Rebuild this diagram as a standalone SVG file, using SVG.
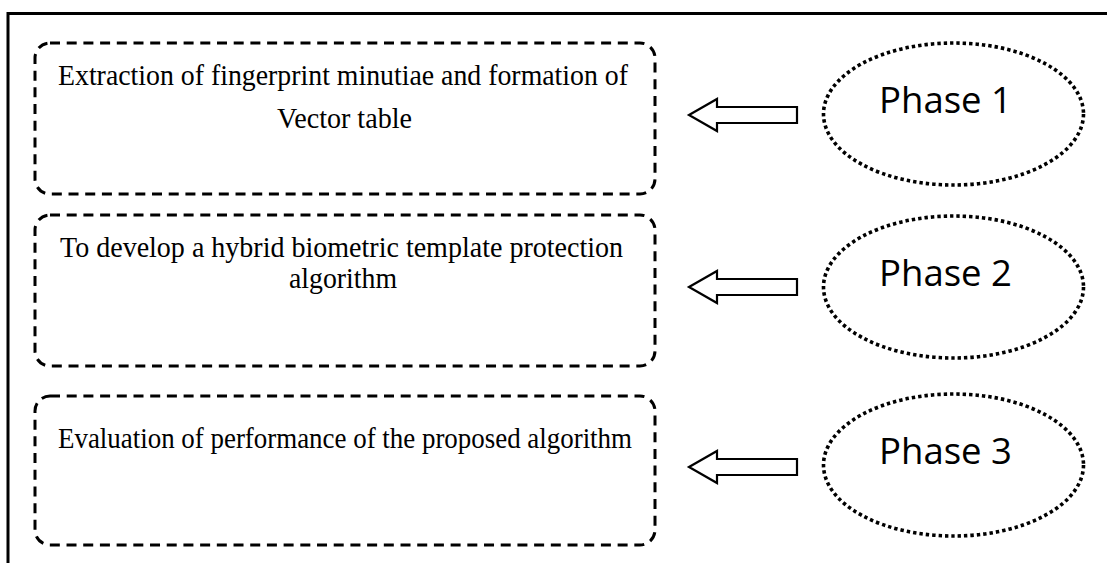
<svg xmlns="http://www.w3.org/2000/svg" width="1107" height="563" viewBox="0 0 1107 563">
<style>
.box{fill:none;stroke:#000;stroke-width:3;stroke-dasharray:10 6.7}
.ell{fill:none;stroke:#000;stroke-width:3.6;stroke-dasharray:3.4 3}
.arr{fill:#fff;stroke:#000;stroke-width:2.2}
.t{font-family:"Liberation Serif","Times New Roman",serif;font-size:30px;fill:#000}
.p{font-family:"Open Sans","Liberation Sans",Arial,sans-serif;font-size:36px;fill:#000}
.frame{fill:none;stroke:#000;stroke-width:3}
</style>
<g id="frame">
<path class="frame" d="M8,563 L8,13.5 L1107,13.5"/>
</g>
<g id="box1">
<rect class="box" x="35" y="43" width="620" height="151" rx="15"/>
<text class="t" x="58" y="85" textLength="570" lengthAdjust="spacingAndGlyphs">Extraction of fingerprint minutiae and formation of</text>
<text class="t" x="277" y="128" textLength="135" lengthAdjust="spacingAndGlyphs">Vector table</text>
</g>
<g id="box2">
<rect class="box" x="35" y="215" width="620" height="151" rx="15"/>
<text class="t" x="60" y="257" textLength="563" lengthAdjust="spacingAndGlyphs">To develop a hybrid biometric template protection</text>
<text class="t" x="289" y="288" textLength="108" lengthAdjust="spacingAndGlyphs">algorithm</text>
</g>
<g id="box3">
<rect class="box" x="35" y="396" width="620" height="149" rx="15"/>
<text class="t" x="58" y="448" textLength="574" lengthAdjust="spacingAndGlyphs">Evaluation of performance of the proposed algorithm</text>
</g>
<g id="phase1">
<ellipse class="ell" cx="953.5" cy="114" rx="130" ry="71"/>
<text class="p" x="879" y="113" textLength="133" lengthAdjust="spacingAndGlyphs">Phase 1</text>
</g>
<g id="phase2">
<ellipse class="ell" cx="953.5" cy="287" rx="130" ry="71"/>
<text class="p" x="879" y="286" textLength="133" lengthAdjust="spacingAndGlyphs">Phase 2</text>
</g>
<g id="phase3">
<ellipse class="ell" cx="953.5" cy="465" rx="130" ry="71"/>
<text class="p" x="879" y="464" textLength="133" lengthAdjust="spacingAndGlyphs">Phase 3</text>
</g>
<g id="connectors">
<path class="arr" d="M689,115 L717,99 L717,107 L797,107 L797,123 L717,123 L717,131 Z"/>
<path class="arr" d="M689,287 L717,271 L717,279 L797,279 L797,295 L717,295 L717,303 Z"/>
<path class="arr" d="M689,467 L717,451 L717,459 L797,459 L797,475 L717,475 L717,483 Z"/>
</g>
</svg>
